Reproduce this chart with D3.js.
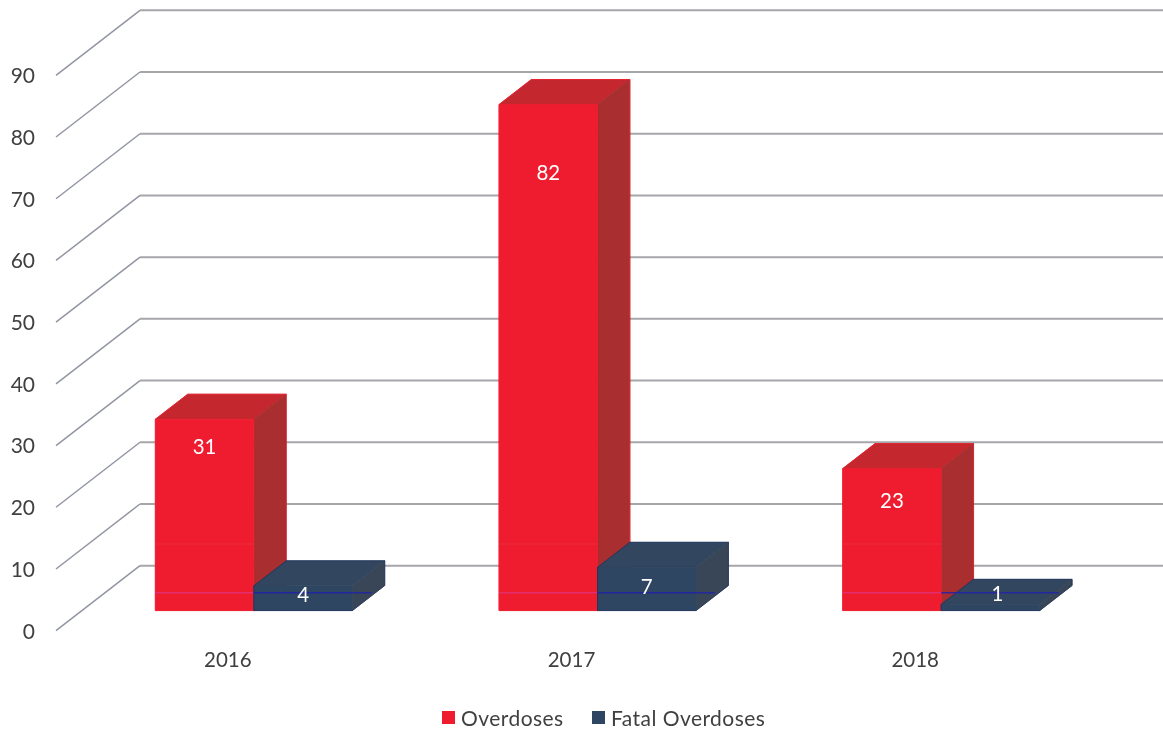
<!DOCTYPE html>
<html><head><meta charset="utf-8">
<script src="https://cdnjs.cloudflare.com/ajax/libs/d3/7.8.5/d3.min.js"></script>
<style>
html,body{margin:0;padding:0;background:#fff;overflow:hidden}
text{font-family:Lato,"Open Sans",sans-serif}
svg{filter:blur(0.45px)}
</style></head><body>
<svg id="c" width="1163" height="732"></svg>
<script>
const years = ["2016","2017","2018"];
const overdoses = [31,82,23];
const fatalOverdoses = [4,7,1];
const seriesNames = ["Overdoses","Fatal Overdoses"];
const yTicks = [0,10,20,30,40,50,60,70,80,90];

const svg = d3.select("#c");
const x = d3.scaleBand().domain(years).range([56,1087]);
const y = d3.scaleLinear().domain([0,90]).range([630.7,75.3]);
// oblique projection of depth (0 = front of chart, 1 = back wall)
const DX = 84, DY = -65;
const px = (xv,z)=> xv + DX*z;
const py = (yv,z)=> y(yv) + DY*z;
const Z0 = 0.31, Z1 = 0.695, BW = 98.5;

const grid = svg.append("g");
const line = d3.line();
yTicks.forEach(t=>{
  grid.append("path").attr("d",line([[px(56,0),py(t,0)],[px(56,1),py(t,1)]]))
    .attr("fill","none").attr("stroke","#9296a2").attr("stroke-width",1.5);
  grid.append("path").attr("d",line([[px(56,1),py(t,1)],[px(1087,1),py(t,1)]]))
    .attr("fill","none").attr("stroke","#a6a6ab").attr("stroke-width",2);
});

const styles = [
 {front:"#ee1c2e",top:"#c4282e",side:"#a92e30",scan:"#e0307a",edge:"#ee1c2e"},
 {front:"#2e4662",top:"#32465f",side:"#384658",scan:"#2222aa",edge:"#1f2f5c"}
];
const labelDy = [[27,67,31],[8,19,-11]];  // label offset below bar top, px
const labelDx = [[0,0,0],[0,0,7]];
const series = [overdoses,fatalOverdoses];
const bars = svg.append("g");
const labels = svg.append("g");

series.forEach((vals,s)=>{
  const st = styles[s];
  vals.forEach((v,i)=>{
    const cx = x(years[i]) + x.bandwidth()/2;
    const x0 = cx - BW + s*BW, x1 = x0 + BW;
    const g = bars.append("g");
    const P = (xv,yv,z)=>[px(xv,z),py(yv,z)];
    const poly = pts=>d3.line()(pts)+"Z";
    const face = (pts,c)=>g.append("path").attr("d",poly(pts)).attr("fill",c).attr("stroke",c).attr("stroke-width",.8);
    face([P(x0,v,Z0),P(x0,v,Z1),P(x1,v,Z1),P(x1,v,Z0)],st.top);
    face([P(x1,0,Z0),P(x1,0,Z1),P(x1,v,Z1),P(x1,v,Z0)],st.side);
    face([P(x0,0,Z0),P(x1,0,Z0),P(x1,v,Z0),P(x0,v,Z0)],st.front);
    // outer silhouette
    g.append("path").attr("d",poly([P(x0,0,Z0),P(x0,v,Z0),P(x0,v,Z1),P(x1,v,Z1),P(x1,0,Z1),P(x1,0,Z0)]))
      .attr("fill","none").attr("stroke",st.edge).attr("stroke-width",.9).attr("stroke-opacity",.8);
    // faint scanner streaks crossing the page
    const scanY = 592.7;
    const xEnd = s===0 ? px(x1,Z0) : px(x1,Z0)+19;
    g.append("line").attr("x1",px(x0,Z0)).attr("x2",xEnd).attr("y1",scanY).attr("y2",scanY)
      .attr("stroke",st.scan).attr("stroke-width",1.6).attr("opacity",.85);
    if(s===0) g.append("rect").attr("x",px(x0,Z0)).attr("width",BW).attr("y",543).attr("height",2)
      .attr("fill","#fff").attr("opacity",.04);
    labels.append("text")
      .attr("x",px(cx - BW/2 + s*BW,Z0)+labelDx[s][i])
      .attr("y",py(v,Z0)+labelDy[s][i])
      .attr("text-anchor","middle").attr("dominant-baseline","central")
      .attr("font-size",20.5).attr("fill","#fff").text(v);
  });
});

const yAxis = svg.append("g").attr("transform","translate(35,0)")
  .call(d3.axisLeft(y).tickValues(yTicks).tickSize(0).tickPadding(0));
yAxis.select(".domain").remove();
yAxis.selectAll("text").attr("font-size",21).attr("fill","#404040").attr("font-family",null).attr("dy","0.35em");

const xAxis = svg.append("g").attr("transform","translate(0,660)")
  .call(d3.axisBottom(x).tickSize(0).tickPadding(0));
xAxis.select(".domain").remove();
xAxis.selectAll("text").attr("font-size",20.5).attr("fill","#404040").attr("font-family",null).attr("dy","0.35em").attr("y",0);

const legendX = [442,592];
seriesNames.forEach((n,s)=>{
  svg.append("rect").attr("x",legendX[s]).attr("y",711).attr("width",13).attr("height",13)
    .attr("fill",s?"#2e4662":"#ee1c2e");
  svg.append("text").attr("x",legendX[s]+19).attr("y",717.5).attr("dominant-baseline","central")
    .attr("font-size",21).attr("fill","#404040").attr("letter-spacing",".45").text(n);
});
</script></body></html>
